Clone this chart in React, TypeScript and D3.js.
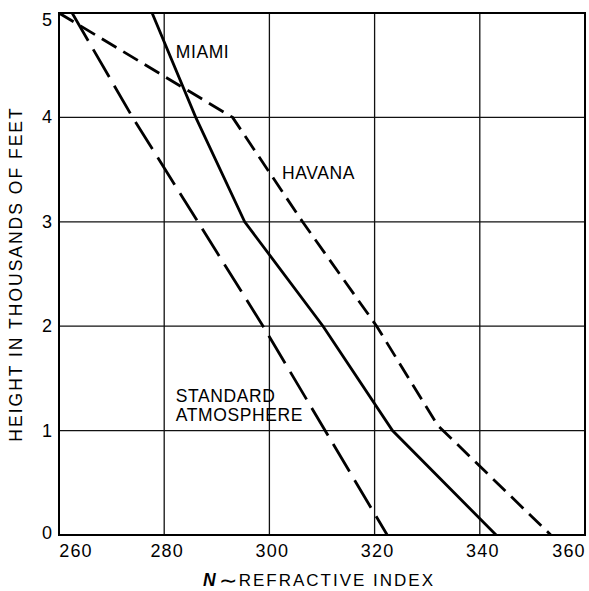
import React from "react";
import * as d3 from "d3";

const xTicks = [260, 280, 300, 320, 340, 360];
const yTicks = [0, 1, 2, 3, 4, 5];

const miamiN = [277.7, 286.0, 295.3, 310.2, 323.4, 343.1];
const miamiH = [5, 4, 3, 2, 1, 0];

const havanaN = [260, 293, 306.3, 320.4, 332, 353.5];
const havanaH = [5, 4, 3, 2, 1.05, 0];

const standardN = [262.5, 274, 298.8, 322.4];
const standardH = [5, 4, 2, 0];

const labels = [
  { text: "MIAMI", n: 282.2, h: 4.63 },
  { text: "HAVANA", n: 302.4, h: 3.47 },
  { text: "STANDARD", n: 282.2, h: 1.33 },
  { text: "ATMOSPHERE", n: 282.2, h: 1.15 },
];

const W = 589;
const H = 591;
const M = { left: 59, right: 585, top: 13, bottom: 535 };

export default function App() {
  const x = d3.scaleLinear().domain([260, 360]).range([M.left, M.right]);
  const y = d3.scaleLinear().domain([0, 5]).range([M.bottom, M.top]);
  const line = d3
    .line<[number, number]>()
    .x((d) => x(d[0]))
    .y((d) => y(d[1]));
  const zip = (a: number[], b: number[]) => a.map((v, i) => [v, b[i]] as [number, number]);
  const font = "'Liberation Sans', Arial, Helvetica, sans-serif";

  const clipId = "plotclip";
  return (
    <svg
      width={W}
      height={H}
      style={{ position: "absolute", left: 0, top: 0, background: "#fff" }}
      fontFamily={font}
    >
      <defs>
        <clipPath id={clipId}>
          <rect x={M.left} y={M.top} width={M.right - M.left} height={M.bottom - M.top} />
        </clipPath>
      </defs>
      {/* grid */}
      {xTicks.slice(1, -1).map((t) => (
        <line key={"gx" + t} x1={x(t)} x2={x(t)} y1={M.top} y2={M.bottom} stroke="#111" strokeWidth={1.3} />
      ))}
      {yTicks.slice(1, -1).map((t) => (
        <line key={"gy" + t} x1={M.left} x2={M.right} y1={y(t)} y2={y(t)} stroke="#111" strokeWidth={1.3} />
      ))}
      {/* frame */}
      <rect
        x={M.left}
        y={M.top}
        width={M.right - M.left}
        height={M.bottom - M.top}
        fill="none"
        stroke="#000"
        strokeWidth={2}
      />
      {/* curves */}
      <g clipPath={`url(#${clipId})`} fill="none" stroke="#000" strokeWidth={2.8}>
        <path d={line(zip(miamiN, miamiH)) || ""} />
        <path d={line(zip(havanaN, havanaH)) || ""} strokeDasharray="17,8" />
        <path d={line(zip(standardN, standardH)) || ""} strokeDasharray="32,10" />
      </g>
      {/* curve labels */}
      {labels.map((l) => (
        <text
          key={l.text}
          x={x(l.n)}
          y={y(l.h)}
          dominantBaseline="central"
          fontSize={17.5}
          letterSpacing={0.6}
          fill="#000"
        >
          {l.text}
        </text>
      ))}
      {/* x tick labels */}
      {xTicks.map((t, i) => {
        const off = i === 0 ? 17 : i === xTicks.length - 1 ? -16 : 3;
        return (
          <text
            key={"xt" + t}
            x={x(t) + off}
            y={551}
            textAnchor="middle"
            dominantBaseline="central"
            fontSize={18}
            letterSpacing={1.2}
            fill="#000"
          >
            {t}
          </text>
        );
      })}
      {/* y tick labels */}
      {yTicks.map((t, i) => {
        const off = i === yTicks.length - 1 ? 7 : i === 0 ? -2 : 0;
        return (
          <text
            key={"yt" + t}
            x={47}
            y={y(t) + off}
            textAnchor="middle"
            dominantBaseline="central"
            fontSize={18}
            fill="#000"
          >
            {t}
          </text>
        );
      })}
      {/* x axis title */}
      <text x={203} y={580} dominantBaseline="central" fill="#000">
        <tspan fontSize={17.5} fontWeight="bold" fontStyle="italic">N</tspan>
        <tspan fontSize={22} dx={3}>∼</tspan>
        <tspan fontSize={17} dx={2} letterSpacing={2}>REFRACTIVE INDEX</tspan>
      </text>
      {/* y axis title */}
      <text
        transform={`translate(16, ${(M.top + M.bottom) / 2}) rotate(-90)`}
        textAnchor="middle"
        dominantBaseline="central"
        fontSize={17.5}
        letterSpacing={2}
        fill="#000"
      >
        HEIGHT IN THOUSANDS OF FEET
      </text>
    </svg>
  );
}
